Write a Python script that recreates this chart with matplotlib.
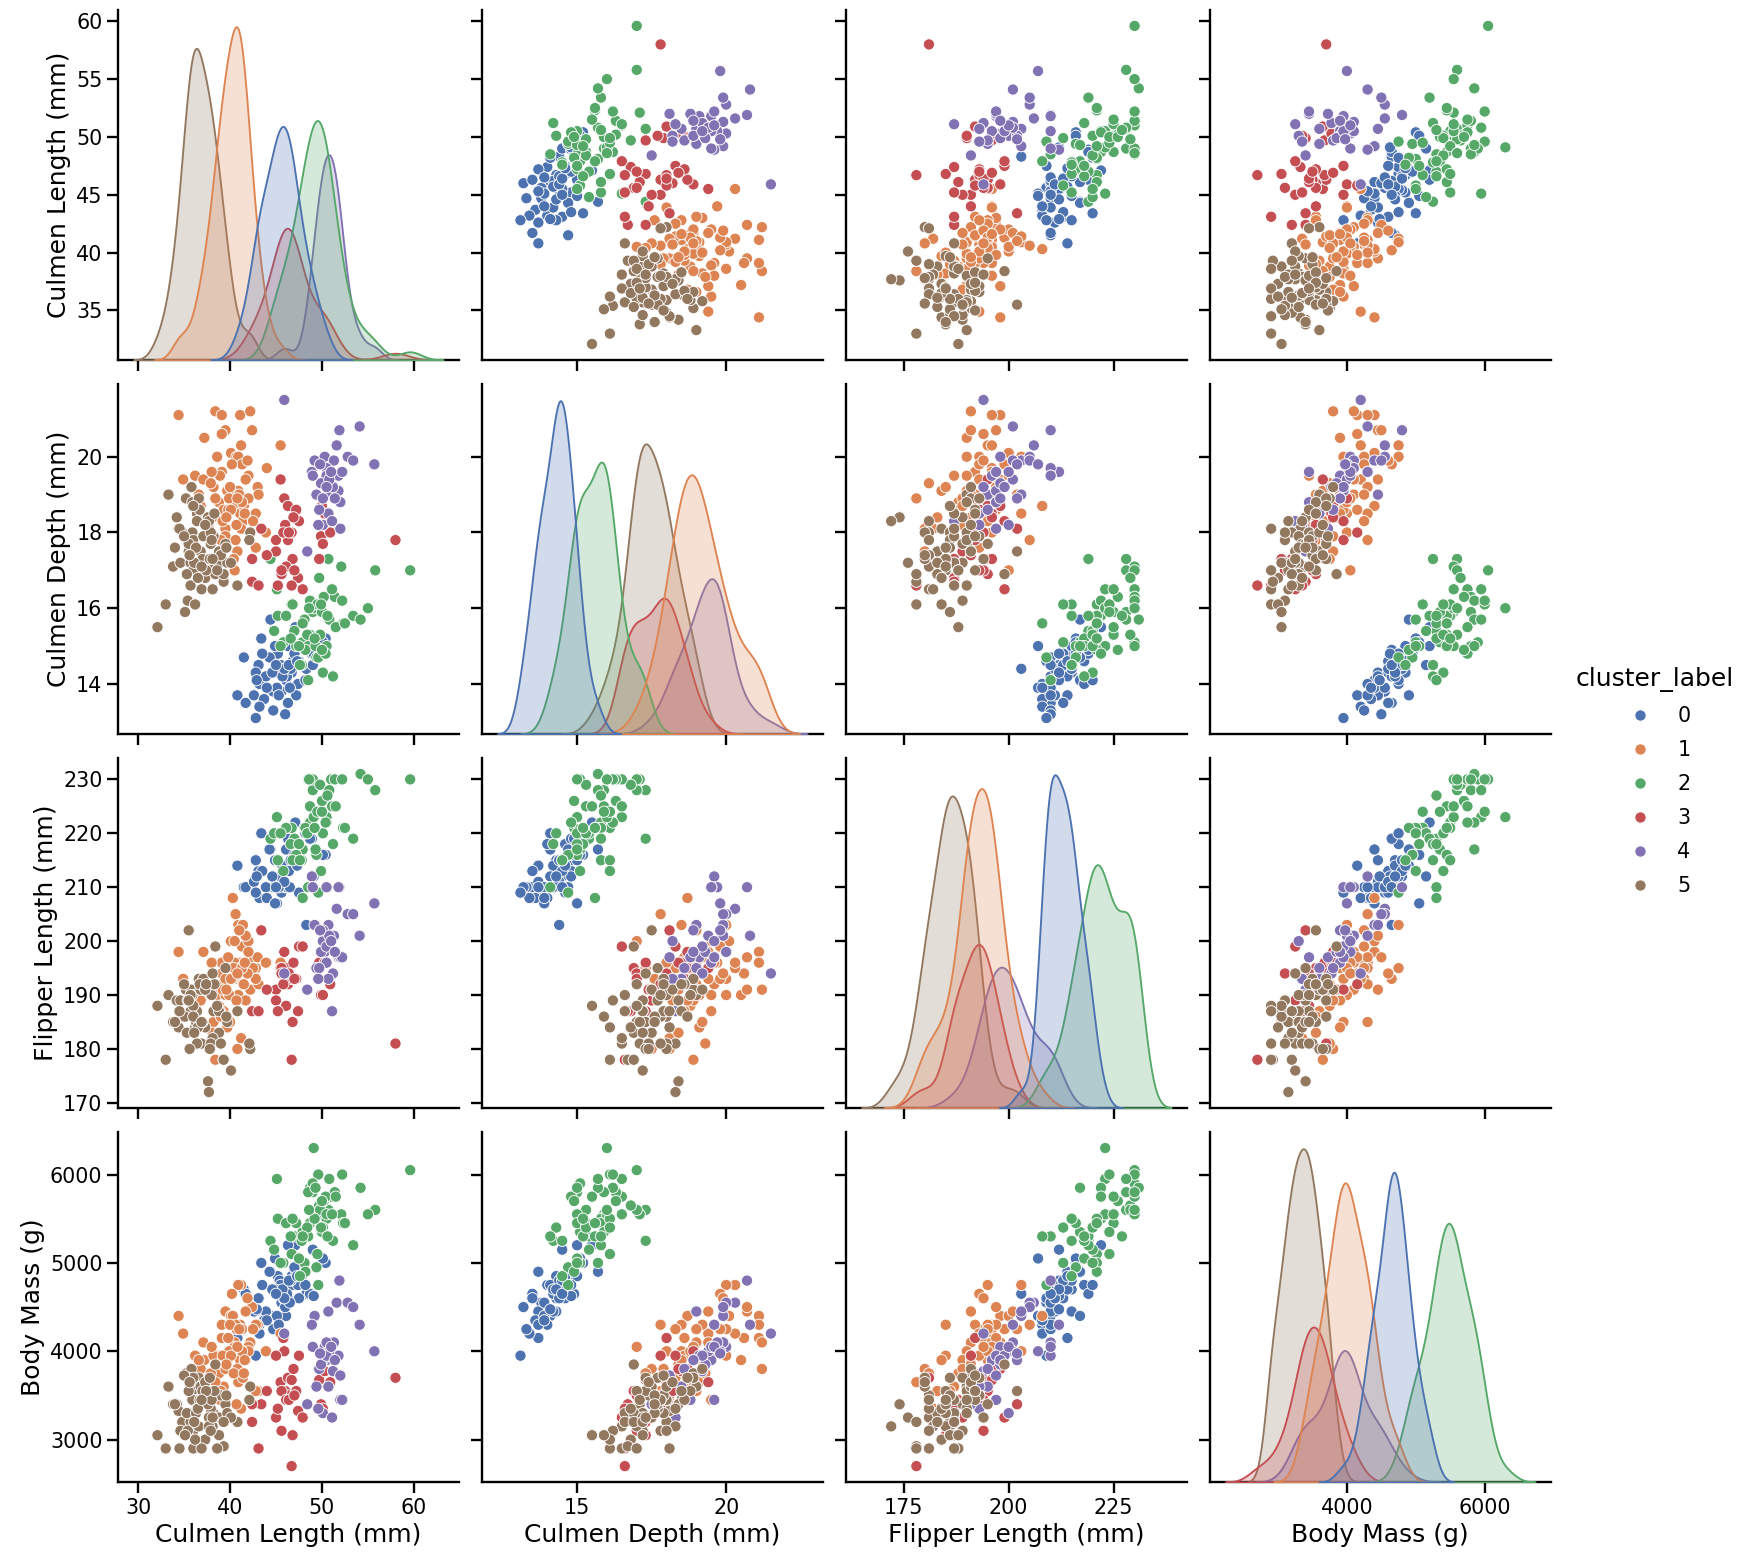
import numpy as np
import pandas as pd
import matplotlib
matplotlib.use("Agg")
import matplotlib.pyplot as plt
import seaborn as sns

columns = ["Culmen Length (mm)", "Culmen Depth (mm)", "Flipper Length (mm)", "Body Mass (g)"]
hue_name = "cluster_label"

x_ticks = [[30, 40, 50, 60], [15, 20], [175, 200, 225], [4000, 6000]]
y_ticks = [[35, 40, 45, 50, 55, 60], [14, 16, 18, 20], [170, 180, 190, 200, 210, 220, 230],
           [3000, 4000, 5000, 6000]]

# rows: (culmen length, culmen depth, flipper length, body mass)
cluster0 = [
    (44.4,15.7,217,4900),(47.1,15.5,222,5200),(43.4,15.2,220,5000),(41.5,14.7,210,4700),
    (45.2,14.8,215,4850),(46.3,15.0,219,5200),(46.8,14.6,218,4750),(43.1,14.5,213,4600),
    (42.8,14.3,215,4450),(45.4,14.5,212,4800),(46.7,14.3,215,4850),(48.3,14.4,203,4650),
    (49.0,14.5,212,5150),(50.4,15.2,216,5000),(48.9,14.8,219,4650),(44.3,14.7,217,4900),
    (46.1,14.1,217,4400),(47.4,14.0,218,4750),(43.2,14.0,208,4300),(44.7,13.8,210,4400),
    (45.6,13.8,209,4550),(47.2,13.7,214,4900),(40.8,13.7,214,4150),(41.7,13.5,210,4650),
    (42.6,13.7,211,4450),(43.7,13.6,208,4350),(43.2,13.4,208,4200),(44.7,13.3,210,4250),
    (46.0,13.2,210,4500),(42.8,13.1,209,3950),(46.3,13.5,213,4600),(48.7,14.9,219,4650),
    (47.8,15.0,215,4850),(45.8,14.3,213,4600),(43.9,14.2,210,4450),(50.1,15.1,216,5050),
    (45.5,14.5,212,4750),(46.2,14.2,210,4650),(44.9,14.4,215,4700),(47.5,14.6,209,4600),
    (45.1,13.9,207,4400),(46.5,13.9,210,4550),(43.5,14.8,213,4750),(48.2,14.1,220,4750),
    (49.1,14.8,212,4625),(45.3,13.7,210,4300),(47.0,14.8,216,4950),(44.0,13.9,208,4350),
    (44.9,15.0,207,5050),(45.7,14.2,214,4700),(42.9,14.1,212,4475),(46.6,14.4,215,4800),
    (45.9,14.4,211,4600),(46.4,14.5,213,4800),(44.6,14.3,212,4700),(47.3,14.6,214,4850),
    (45.0,14.5,210,4650),
]
cluster1 = [
    (34.4,21.1,198,4400),(38.4,21.2,191,3800),(39.1,21.1,196,4150),(41.1,21.1,196,4300),
    (42.2,21.2,191,4100),(37.2,20.5,190,3900),(39.5,20.7,191,4450),(39.1,20.6,194,4150),
    (42.4,20.7,197,4500),(41.2,20.3,195,4750),(40.1,20.1,200,4400),(45.5,20.3,196,4200),
    (40.7,20.0,193,4250),(38.6,20.0,190,3950),(40.9,20.0,203,4750),(41.3,19.8,199,4250),
    (44.0,19.7,196,4000),(39.1,19.6,192,4300),(34.9,19.4,193,4200),(36.2,19.5,190,3950),
    (37.1,19.4,198,4100),(38.2,19.2,185,3950),(42.0,19.5,200,4050),(41.7,19.4,201,4450),
    (43.0,19.2,197,4300),(40.9,19.1,190,3650),(39.7,19.1,184,3900),(40.5,19.0,196,4100),
    (43.1,19.0,192,3550),(38.8,18.8,188,3750),(40.3,18.7,208,4400),(41.4,18.5,203,4000),
    (42.8,18.5,195,4300),(41.1,18.5,195,3900),(39.3,18.6,187,3600),(41.4,18.3,192,3700),
    (42.5,18.3,195,4250),(37.7,18.1,180,3700),(39.5,18.1,193,3450),(41.2,18.1,182,3350),
    (43.9,18.0,196,4000),(39.5,17.9,190,3800),(40.6,17.8,205,4300),(42.8,17.6,193,3550),
    (40.8,17.5,180,3800),(40.4,17.3,195,3750),(40.5,17.0,200,4050),(38.4,18.9,178,3650),
    (39.9,18.9,190,4000),(41.7,18.9,189,3900),(36.8,18.7,189,3800),(38.1,18.4,183,3550),
    (39.2,18.3,191,3950),(40.0,19.2,185,4300),(41.0,19.0,202,4250),(38.9,19.5,187,3450),
    (36.6,19.0,191,3900),(39.8,18.6,197,4150),(41.5,18.7,192,3750),(40.2,19.8,193,4650),
    (38.0,19.6,196,4050),(42.0,18.9,198,4000),(40.7,18.2,189,3400),(39.0,17.8,186,3550),
    (37.9,19.3,181,3750),(41.9,19.9,194,4600),(40.1,18.6,193,3950),(41.3,18.8,195,4000),
    (39.6,18.4,191,3850),(40.8,18.9,194,4050),(41.6,18.5,196,3900),
]
cluster2 = [
    (44.4,17.3,219,5250),(45.1,16.5,223,5950),(50.7,17.3,228,5600),(52.1,17.1,230,5550),
    (55.8,17.0,228,5600),(59.6,17.0,230,6050),(49.7,16.8,229,5650),(46.7,16.1,221,5100),
    (51.0,16.5,230,5750),(51.4,16.3,230,5800),(48.7,16.2,222,5850),(49.6,16.1,224,6000),
    (50.1,15.9,225,5550),(50.5,15.8,222,5500),(49.0,15.9,228,5800),(48.1,15.7,221,5000),
    (47.0,15.4,219,5300),(45.2,15.8,215,5500),(46.1,15.8,221,5450),(44.8,15.4,220,5150),
    (47.9,15.1,217,5350),(49.0,15.1,230,5900),(49.8,15.3,229,5600),(50.5,15.0,223,5550),
    (45.8,15.1,213,5000),(47.2,15.0,216,5450),(52.3,15.6,221,5450),(53.4,15.8,219,5200),
    (54.2,15.7,231,5850),(55.0,16.0,230,5550),(50.1,14.3,220,5400),(51.2,14.2,218,5250),
    (48.5,14.1,210,5300),(49.4,14.7,216,4950),(49.6,14.7,209,4750),(47.8,14.5,215,5250),
    (48.7,15.3,225,5450),(46.6,15.2,218,5300),(49.1,16.0,223,6300),(48.5,15.0,230,5800),
    (50.2,16.3,226,5700),(52.2,16.2,230,6000),(49.5,16.1,224,5100),(50.8,15.7,228,5950),
    (48.2,14.9,221,4900),(47.5,15.0,218,5050),(50.4,14.8,222,5750),(46.8,16.1,215,5500),
    (49.3,15.0,217,5850),(51.1,16.5,225,5550),(45.5,15.0,220,5000),(48.4,15.3,220,5400),
    (50.0,15.9,224,5350),(49.9,16.1,213,5400),(47.9,15.6,208,5300),(50.0,14.9,226,5700),
    (49.2,15.2,221,5500),(51.5,15.5,225,5750),(47.6,14.5,215,4850),(52.5,15.6,221,5450),
    (48.6,16.0,230,5600),(50.6,15.8,227,5300),
]
cluster3 = [
    (45.5,19.4,195,3650),(45.9,18.9,198,4000),(46.3,18.7,195,3700),(47.5,18.3,199,3950),
    (46.0,18.2,192,3550),(43.4,18.1,202,3400),(45.0,17.8,191,3950),(46.3,17.8,192,3500),
    (46.7,18.0,193,3675),(50.0,18.7,198,3800),(49.9,17.9,190,3400),(58.0,17.8,181,3700),
    (49.7,17.3,196,3675),(42.4,17.3,187,3200),(45.6,16.9,195,3550),(46.8,17.3,185,3050),
    (46.1,17.1,188,3450),(45.6,17.0,194,3100),(47.4,16.8,187,3325),(42.4,16.7,187,3400),
    (43.1,16.6,187,2900),(46.7,16.6,178,2700),(47.9,16.5,199,3250),(50.3,18.5,196,3775),
    (45.8,18.0,192,4150),(45.0,17.5,189,3250),(47.2,18.6,193,3550),(50.9,18.0,192,3650),
    (46.4,18.0,194,3450),(45.2,16.6,187,3350),(47.0,17.0,193,3500),(44.0,17.4,191,3550),
    (46.9,18.4,196,3800),(50.1,17.7,190,3350),
]
cluster4 = [
    (45.9,21.5,194,4200),(51.9,20.7,210,4800),(54.1,20.8,201,4300),(51.6,20.3,206,4550),
    (49.2,19.9,203,4400),(50.3,20.0,198,4050),(51.3,19.9,201,4100),(52.8,20.0,205,4550),
    (53.4,19.9,205,4500),(55.7,19.8,207,4000),(48.9,19.6,212,4300),(50.5,19.7,210,4100),
    (51.8,19.5,210,3950),(50.5,19.5,196,3900),(49.4,19.0,195,3600),(50.7,19.0,203,4450),
    (51.8,19.1,197,3950),(51.2,19.2,194,3775),(52.0,18.8,197,3450),(50.7,18.5,193,3600),
    (49.7,18.6,195,3800),(50.1,18.2,200,3300),(49.6,18.2,193,3350),(52.0,18.1,197,3725),
    (51.1,18.3,187,3250),(48.4,17.5,191,3400),(50.1,18.9,202,3900),(49.9,19.3,198,3850),
    (52.2,19.6,197,3450),(50.8,19.4,201,4000),(49.0,19.5,210,4050),(50.5,19.2,199,3950),
    (51.0,19.6,200,4050),(49.8,19.8,202,3975),(51.4,18.9,198,3900),
]
cluster5 = [
    (33.3,19.0,190,3600),(35.2,18.9,191,3750),(34.2,18.4,189,3400),(35.8,19.2,191,3800),
    (35.9,18.8,190,3550),(36.6,18.9,193,3700),(36.4,18.5,187,3450),(34.4,18.1,184,3325),
    (34.8,18.0,186,3200),(35.9,18.0,190,3450),(36.0,17.8,186,3100),(37.1,17.9,193,3500),
    (38.2,17.9,187,3300),(37.9,17.7,190,3350),(38.8,17.5,183,3250),(39.5,17.7,195,3400),
    (35.5,17.5,202,3550),(33.8,17.1,185,3400),(34.6,17.2,189,3100),(35.7,17.2,187,3200),
    (36.6,17.0,185,3150),(37.7,17.1,181,3250),(38.8,17.2,187,3050),(39.7,17.2,185,3300),
    (37.3,16.8,184,3000),(36.0,17.0,188,2900),(35.7,16.6,190,3300),(36.9,16.5,181,2900),
    (38.1,16.5,182,3150),(39.3,16.7,178,2925),(40.8,16.6,187,3200),(33.0,16.1,178,2900),
    (35.4,16.2,189,3100),(36.2,16.1,184,3000),(37.6,18.4,174,3400),(37.7,18.3,172,3150),
    (35.1,15.9,186,3050),(32.1,15.5,188,3050),(36.8,17.5,191,3600),(35.3,16.9,183,3300),
    (38.4,16.9,199,3850),(36.4,18.3,181,3350),(37.9,18.0,181,3100),(39.0,17.4,181,3500),
    (42.2,18.0,180,3600),(42.1,17.8,181,3450),(40.1,17.2,176,3250),(39.3,16.9,178,3200),
    (35.5,17.7,189,3700),(36.7,18.6,192,3450),(37.0,17.3,185,3550),(38.6,17.0,188,2900),
    (36.3,17.6,185,3300),(34.5,18.1,187,2900),(38.0,17.8,190,3450),(39.6,17.6,186,3500),
    (37.3,18.2,191,3650),(36.0,18.7,186,3700),(38.3,18.5,192,3550),(35.0,17.9,192,3725),
    (37.8,17.3,180,3700),(36.5,16.8,184,3350),(34.0,17.6,185,3400),(36.1,17.2,183,3200),
    (37.4,17.0,192,3550),(35.6,17.4,180,3650),(38.1,17.3,194,3250),(36.9,17.1,185,3450),
]

clusters = [cluster0, cluster1, cluster2, cluster3, cluster4, cluster5]
frames = []
for label, rows in enumerate(clusters):
    f = pd.DataFrame(rows, columns=columns)
    f[hue_name] = label
    frames.append(f)
df = pd.concat(frames, ignore_index=True)

sns.set_context("talk", rc={"axes.labelsize": 20, "legend.title_fontsize": 20})
DPI = 90
g = sns.pairplot(df, vars=columns, hue=hue_name, palette="deep", diag_kind="kde", height=4)
fig = g.figure
fig.set_size_inches(1754 / DPI, 1563 / DPI)
fig.subplots_adjust(left=0.0673, right=0.884, bottom=0.0518, top=0.9936,
                    wspace=0.069, hspace=0.069)
for i, ax in enumerate(g.axes[-1, :]):
    ax.set_xticks(x_ticks[i])
for j, ax in enumerate(g.axes[:, 0]):
    ax.set_yticks(y_ticks[j])
sns.move_legend(g, "center", bbox_to_anchor=(0.9436, 0.5), frameon=False,
                alignment="center", labelspacing=0.68)
fig.savefig("out.png", dpi=DPI)
